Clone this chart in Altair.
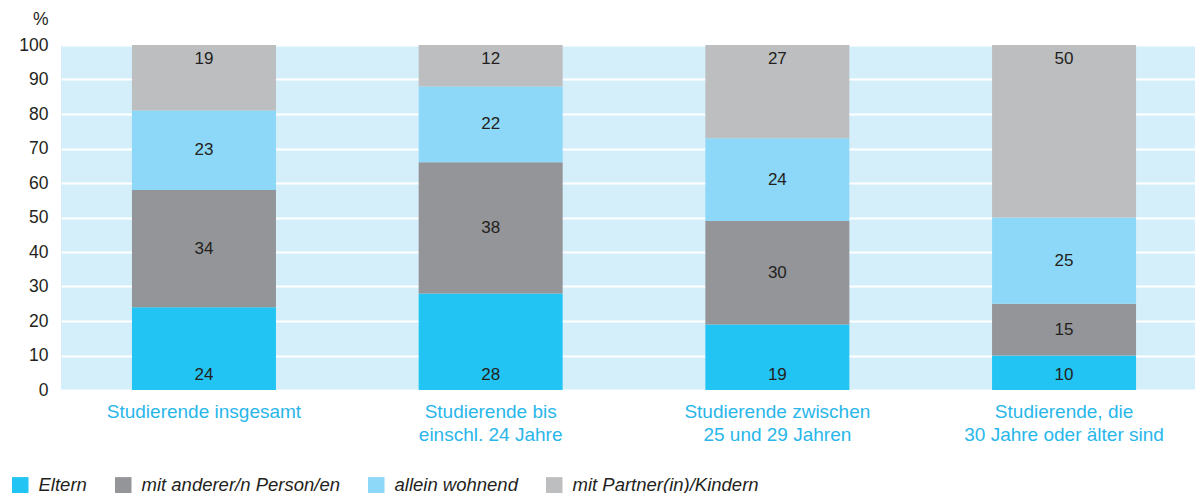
import altair as alt
import pandas as pd

categories = [
    "Studierende insgesamt",
    "Studierende bis\neinschl. 24 Jahre",
    "Studierende zwischen\n25 und 29 Jahren",
    "Studierende, die\n30 Jahre oder älter sind",
]
series = ["Eltern", "mit anderer/n Person/en", "allein wohnend", "mit Partner(in)/Kindern"]
colors = ["#22C4F3", "#939598", "#8DD8F8", "#BCBEC0"]
y_ticks = [0, 10, 20, 30, 40, 50, 60, 70, 80, 90, 100]

eltern = [24, 28, 19, 10]
andere = [34, 38, 30, 15]
allein = [23, 22, 24, 25]
partner = [19, 12, 27, 50]

values = [eltern, andere, allein, partner]
rows = []
for si, s in enumerate(series):
    for ci, c in enumerate(categories):
        rows.append({"cat": c, "series": s, "ord": si, "value": values[si][ci]})
df = pd.DataFrame(rows)

FONT = "Liberation Sans"
TXT = "#231F20"

x_axis = alt.Axis(labelExpr="split(datum.label, '\\n')", labelAngle=0,
                  labelColor="#29B6EA", labelFontSize=19, labelFont=FONT,
                  labelPadding=12, labelLineHeight=23, ticks=False, labelLimit=0,
                  domain=False, grid=False, labelBaseline="top")
x_scale = alt.Scale(paddingInner=0.5, paddingOuter=0.2277, align=0.546)
y_axis = alt.Axis(values=y_ticks, ticks=False, domain=False, labelOverlap=False,
                  labelFontSize=17.5, labelFont=FONT, labelColor=TXT, labelPadding=13,
                  gridColor="white", gridWidth=2, titleAngle=0, titleAlign="right",
                  titleX=-13, titleY=-26, titleBaseline="middle",
                  titleFontWeight="normal", titleFontSize=17.5, titleFont=FONT,
                  titleColor=TXT)
y_scale = alt.Scale(domain=[0, 100])

base = alt.Chart(df).transform_stack(
    stack="value", groupby=["cat"], sort=[alt.SortField("ord")], as_=["y0", "y1"]
)

bars = base.mark_bar(size=144).encode(
    x=alt.X("cat:N", sort=categories, title=None, axis=x_axis, scale=x_scale),
    y=alt.Y("y0:Q", title="%", scale=y_scale, axis=y_axis),
    y2="y1:Q",
    color=alt.Color("series:N", sort=series,
                    scale=alt.Scale(domain=series, range=colors),
                    legend=alt.Legend(title=None, orient="none", direction="horizontal",
                                      legendX=-50, legendY=431, symbolType="square",
                                      symbolSize=272, symbolStrokeWidth=0, labelFontSize=18.5,
                                      labelFont=FONT, labelFontStyle="italic", labelColor=TXT,
                                      labelOffset=9, columnPadding=27, labelLimit=0,
                                      symbolOpacity=1)),
    order=alt.Order("ord:Q"),
)

labels = base.transform_calculate(
    ypos="datum.ord == 0 ? 4.3 : (datum.ord == 3 ? 95.8 : (datum.y0 + datum.y1) / 2)"
).mark_text(fontSize=17, font=FONT, color=TXT, baseline="middle").encode(
    x=alt.X("cat:N", sort=categories, title=None, axis=x_axis, scale=x_scale),
    y=alt.Y("ypos:Q", title="%", scale=y_scale, axis=y_axis),
    text=alt.Text("value:Q"),
)

chart = (bars + labels).properties(
    width=1134, height=345,
    padding={"left": 3, "top": 2, "right": 0, "bottom": 0},
).configure_view(fill="#D4EEFA", stroke=None)

chart.save("out.html", embed_options={"renderer": "svg", "actions": False})
